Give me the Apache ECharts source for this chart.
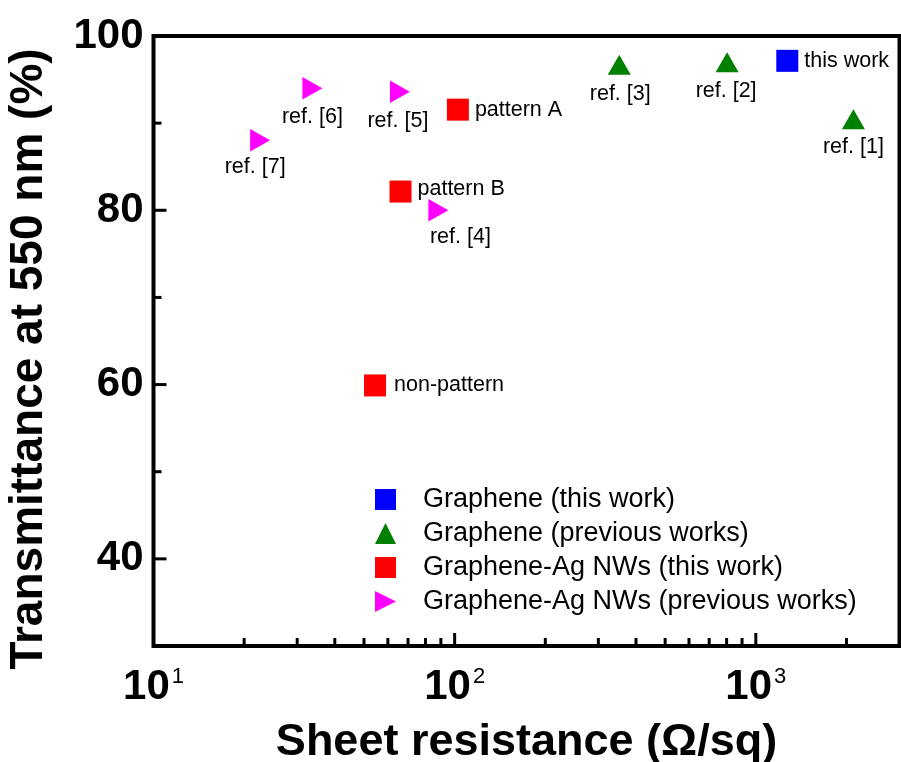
<!DOCTYPE html>
<html>
<head>
<meta charset="utf-8">
<script src="https://cdn.jsdelivr.net/npm/echarts@6/dist/echarts.min.js"></script>
<style>
html,body{margin:0;padding:0;background:#fff;}
#chart{width:901px;height:762px;}
</style>
</head>
<body>
<div id="chart"></div>
<script>
// ---------- data ----------
const grapheneThisX = [1272];
const grapheneThisY = [97.15];
const grapheneThisLabels = ['this work'];

const graphenePrevX = [2109, 803, 352];
const graphenePrevY = [90.45, 97.0, 96.7];
const graphenePrevLabels = ['ref. [1]', 'ref. [2]', 'ref. [3]'];

const agThisX = [102.5, 66.1, 54.4];
const agThisY = [91.55, 82.15, 59.9];
const agThisLabels = ['pattern A', 'pattern B', 'non-pattern'];

const agPrevX = [88.3, 65.8, 33.7, 22.6];
const agPrevY = [80.0, 93.6, 94.0, 88.05];
const agPrevLabels = ['ref. [4]', 'ref. [5]', 'ref. [6]', 'ref. [7]'];

const seriesNames = ['Graphene (this work)', 'Graphene (previous works)', 'Graphene-Ag NWs (this work)', 'Graphene-Ag NWs (previous works)'];

const xLabelValues = [10, 100, 1000];
const xMajorTicks = [100, 1000];
const xMinorTicks = [20, 30, 40, 50, 60, 70, 80, 90, 200, 300, 400, 500, 600, 700, 800, 900, 2000];
const yLabelValues = [40, 60, 80, 100];
const yMajorTicks = [40, 60, 80];
const yMinorTicks = [50, 70, 90];

const xTitle = 'Sheet resistance (\u03A9/sq)';
const yTitle = 'Transmittance at 550 nm (%)';

// ---------- layout / style ----------
const X_MIN = 10, X_MAX = 3000, Y_MIN = 30, Y_MAX = 100;
const FONT = '"Liberation Sans", Arial, sans-serif';
const NARROW = '"Liberation Sans Narrow", "Arial Narrow", "Liberation Sans", sans-serif';

const labelLayout = {
  'this work':   {position: 'right', distance: 6, offset: [0, 0]},
  'ref. [1]':    {position: 'bottom', distance: 7, offset: [0, 0]},
  'ref. [2]':    {position: 'bottom', distance: 8, offset: [-1, 0]},
  'ref. [3]':    {position: 'bottom', distance: 8, offset: [1, 0]},
  'pattern A':   {position: 'right', distance: 6, offset: [0, 0]},
  'pattern B':   {position: 'right', distance: 6, offset: [0, -2]},
  'non-pattern': {position: 'right', distance: 8, offset: [0, 0]},
  'ref. [4]':    {position: 'bottom', distance: 5, offset: [22, 0]},
  'ref. [5]':    {position: 'bottom', distance: 7, offset: [-2, 0]},
  'ref. [6]':    {position: 'bottom', distance: 7, offset: [0, 0]},
  'ref. [7]':    {position: 'bottom', distance: 5, offset: [-5, 0]}
};

function makeData(xs, ys, labels) {
  return xs.map((x, i) => {
    const l = labelLayout[labels[i]];
    return {
      value: [x, ys[i]],
      name: labels[i],
      label: {show: true, formatter: labels[i], position: l.position, distance: l.distance, offset: l.offset}
    };
  });
}

const labelStyle = {color: '#000', fontSize: 21.5, fontFamily: FONT};

const tickData = [];
xMajorTicks.forEach(v => tickData.push([v, Y_MIN, 0, 13]));
xMinorTicks.forEach(v => tickData.push([v, Y_MIN, 0, 8]));
yMajorTicks.forEach(v => tickData.push([X_MIN, v, 1, 13]));
yMinorTicks.forEach(v => tickData.push([X_MIN, v, 1, 8]));

function isPow10(v) {
  return xLabelValues.some(t => Math.abs(t - v) / t < 1e-6);
}

const chart = echarts.init(document.getElementById('chart'), null, {renderer: 'canvas'});
chart.setOption({
  backgroundColor: '#fff',
  animation: false,
  textStyle: {fontFamily: FONT},
  grid: {
    left: 153.5, right: 1.5, top: 36, bottom: 116,
    containLabel: false, outerBoundsMode: 'none',
    show: true, borderColor: '#000', borderWidth: 4, backgroundColor: 'transparent'
  },
  xAxis: {
    type: 'log', logBase: 10, min: X_MIN, max: X_MAX,
    name: xTitle, nameLocation: 'middle', nameGap: 74,
    nameTextStyle: {fontSize: 45, fontWeight: 'bold', color: '#000', fontFamily: FONT},
    axisLine: {show: false}, axisTick: {show: false}, splitLine: {show: false},
    axisLabel: {
      margin: 20, color: '#000',
      formatter: function (v) {
        if (!isPow10(v)) return '';
        return '{b|10}{s|' + Math.round(Math.log10(v)) + '}';
      },
      rich: {
        b: {fontSize: 42, fontWeight: 'bold', lineHeight: 42, color: '#000', fontFamily: FONT},
        s: {fontSize: 22, fontWeight: 'normal', lineHeight: 22, verticalAlign: 'top', color: '#000', fontFamily: FONT, padding: [0, 0, 0, 2]}
      }
    }
  },
  yAxis: {
    type: 'value', min: Y_MIN, max: Y_MAX, interval: 10,
    name: yTitle, nameLocation: 'middle', nameGap: 101,
    nameTextStyle: {fontSize: 46, fontWeight: 'bold', color: '#000', fontFamily: FONT, padding: [0, 36, 0, 0]},
    axisLine: {show: false}, axisTick: {show: false}, splitLine: {show: false},
    axisLabel: {
      margin: 10, color: '#000', fontSize: 42, fontWeight: 'bold', fontFamily: FONT,
      formatter: function (v) {
        if (yLabelValues.indexOf(v) < 0) return '';
        return v >= 100 ? '{n|' + v + '}' : String(v);
      },
      rich: {
        n: {fontSize: 42, fontWeight: 'bold', color: '#000', fontFamily: NARROW}
      }
    }
  },
  legend: {
    data: seriesNames,
    orient: 'vertical',
    left: 375, top: 486, padding: 0,
    itemWidth: 21, itemHeight: 21, itemGap: 7,
    textStyle: {fontSize: 27, color: '#000', fontFamily: FONT, lineHeight: 26, padding: [0, 0, 0, 22]},
    selectedMode: false
  },
  series: [
    {
      name: seriesNames[0], type: 'scatter', symbol: 'rect', symbolSize: 22,
      itemStyle: {color: '#0000FF', opacity: 1},
      label: labelStyle,
      data: makeData(grapheneThisX, grapheneThisY, grapheneThisLabels), z: 5
    },
    {
      name: seriesNames[1], type: 'scatter', symbol: 'triangle', symbolSize: [23, 20],
      itemStyle: {color: '#008000', opacity: 1},
      label: labelStyle,
      data: makeData(graphenePrevX, graphenePrevY, graphenePrevLabels), z: 5
    },
    {
      name: seriesNames[2], type: 'scatter', symbol: 'rect', symbolSize: 22,
      itemStyle: {color: '#FF0000', opacity: 1},
      label: labelStyle,
      data: makeData(agThisX, agThisY, agThisLabels), z: 5
    },
    {
      name: seriesNames[3], type: 'scatter', symbol: 'path://M0,0 L10,5 L0,10 Z', symbolSize: [20, 22.5],
      itemStyle: {color: '#FF00FF', opacity: 1},
      label: labelStyle,
      data: makeData(agPrevX, agPrevY, agPrevLabels), z: 5
    },
    {
      name: 'ticks', type: 'custom', silent: true, z: 10,
      encode: {x: 0, y: 1},
      data: tickData,
      renderItem: function (params, api) {
        const p = api.coord([api.value(0), api.value(1)]);
        const kind = api.value(2), len = api.value(3);
        const shape = kind === 0
          ? {x1: p[0], y1: p[1], x2: p[0], y2: p[1] - len}
          : {x1: p[0], y1: p[1], x2: p[0] + len, y2: p[1]};
        return {type: 'line', shape: shape, style: {stroke: '#000', lineWidth: 3}};
      }
    }
  ]
});
</script>
</body>
</html>
